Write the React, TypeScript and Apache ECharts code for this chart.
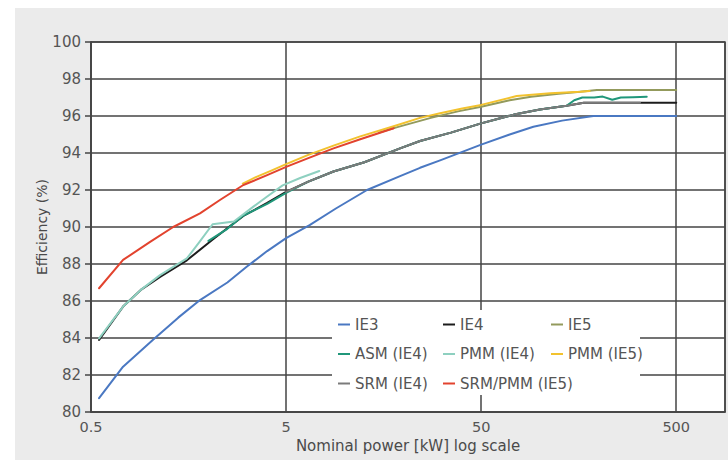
import React, { useEffect, useRef } from "react";
import * as echarts from "echarts";

// ---- data (kW, efficiency %) ----
const X_TICK_LABELS = ["0.5", "5", "50", "500"];
const X_BASE_KW = 0.5;

const IE3_KW = [0.55, 0.73, 1.04, 1.4, 1.81, 2.5, 3.14, 4, 5, 6.6, 9, 13, 19.2, 24.3, 30.8, 50, 70, 92.6, 130, 188, 300, 500];
const IE3_EFF = [80.75, 82.45, 83.9, 85.1, 86.05, 87.0, 87.85, 88.7, 89.4, 90.1, 91.0, 92.0, 92.75, 93.2, 93.6, 94.45, 95.0, 95.42, 95.75, 96.0, 96.0, 96.0];

const IE4_KW = [0.55, 0.73, 0.9, 1.13, 1.55, 2.12, 3.02, 4, 5, 6.5, 8.75, 12.6, 19.2, 24.3, 35, 50, 75, 100, 137, 168, 250, 500];
const IE4_EFF = [83.9, 85.7, 86.6, 87.3, 88.2, 89.35, 90.6, 91.3, 91.9, 92.45, 93.0, 93.5, 94.25, 94.65, 95.1, 95.6, 96.1, 96.35, 96.55, 96.72, 96.72, 96.72];

const IE5_KW = [15, 18.6, 27.6, 38, 50, 70, 90, 125, 161, 196, 300, 500];
const IE5_EFF = [95.1, 95.4, 95.9, 96.25, 96.5, 96.85, 97.04, 97.2, 97.31, 97.4, 97.4, 97.4];

const ASM_KW = [2.0, 2.5, 3.02, 4, 5, 6.5, 8.75, 12.6, 19.2, 24.3, 35, 50, 75, 100, 137, 150, 165, 190, 210, 235, 260, 300, 353];
const ASM_EFF = [89.25, 89.9, 90.62, 91.25, 91.85, 92.45, 93.0, 93.5, 94.25, 94.65, 95.1, 95.6, 96.1, 96.35, 96.55, 96.85, 97.0, 97.0, 97.05, 96.88, 97.0, 97.02, 97.04];

const PMM4_KW = [0.55, 0.73, 0.9, 1.13, 1.55, 1.8, 2.1, 2.7, 3.4, 4.0, 4.8, 5.9, 7.4];
const PMM4_EFF = [83.98, 85.7, 86.6, 87.4, 88.3, 89.2, 90.15, 90.3, 91.1, 91.65, 92.25, 92.65, 93.03];

const PMM5_KW = [3.0, 3.5, 4.2, 5, 6.5, 8.75, 12, 17.8, 24.3, 30.8, 40, 50, 76, 113, 161, 180];
const PMM5_EFF = [92.35, 92.7, 93.05, 93.4, 93.9, 94.4, 94.9, 95.45, 95.9, 96.15, 96.4, 96.6, 97.08, 97.23, 97.31, 97.35];

const SRM4_KW = [5, 6.5, 8.75, 12.6, 19.2, 24.3, 35, 50, 75, 100, 137, 168, 250, 326];
const SRM4_EFF = [91.9, 92.45, 93.0, 93.5, 94.25, 94.65, 95.1, 95.6, 96.1, 96.35, 96.55, 96.72, 96.72, 96.72];

const SRM5_KW = [0.55, 0.73, 1.0, 1.32, 1.81, 2.29, 3.02, 4, 5.04, 6.5, 8.75, 12, 17.8];
const SRM5_EFF = [86.69, 88.22, 89.18, 90.0, 90.74, 91.46, 92.27, 92.8, 93.26, 93.72, 94.25, 94.74, 95.34];

const toX = (kw: number) => Math.log10(kw / X_BASE_KW);
const pairs = (kw: number[], eff: number[]) => kw.map((k, i) => [toX(k), eff[i]]);

const FONT = "DejaVu Sans";
const GRID_COLOR = "#454545";

export default function App() {
  const ref = useRef<HTMLDivElement>(null);

  useEffect(() => {
    if (!ref.current) return;
    const chart = echarts.init(ref.current, undefined, { renderer: "svg" });

    const mk = (name: string, kw: number[], eff: number[], color: string, width = 2) => ({
      name,
      type: "line",
      data: pairs(kw, eff),
      showSymbol: false,
      symbol: "none",
      smooth: false,
      lineStyle: { color, width, join: "round", cap: "round" },
      itemStyle: { color },
      emphasis: { disabled: true },
    });

    const series = [
      mk("IE3", IE3_KW, IE3_EFF, "#4a78c2"),
      mk("IE4", IE4_KW, IE4_EFF, "#1c1c1c"),
      mk("ASM (IE4)", ASM_KW, ASM_EFF, "#20977a"),
      mk("SRM (IE4)", SRM4_KW, SRM4_EFF, "#7b7b7b"),
      mk("PMM (IE4)", PMM4_KW, PMM4_EFF, "#8ed0c0"),
      mk("IE5", IE5_KW, IE5_EFF, "#939a5c"),
      mk("PMM (IE5)", PMM5_KW, PMM5_EFF, "#f2c22e"),
      mk("SRM/PMM (IE5)", SRM5_KW, SRM5_EFF, "#e2432e"),
    ];

    const legendBase = {
      orient: "vertical",
      top: 317,
      padding: 0,
      itemGap: 14.5,
      itemWidth: 12,
      itemHeight: 2,
      icon: "rect",
      selectedMode: false,
      itemStyle: { borderWidth: 0 },
      textStyle: { fontFamily: FONT, fontSize: 15, color: "#555", lineHeight: 14 },
      z: 5,
    };

    chart.setOption({
      animation: false,
      textStyle: { fontFamily: FONT },
      grid: {
        left: 91,
        top: 42,
        right: 3,
        bottom: 48,
        show: true,
        backgroundColor: "#ffffff",
        borderColor: GRID_COLOR,
        borderWidth: 1.5,
      },
      xAxis: {
        type: "value",
        min: 0,
        max: 3.25,
        interval: 1,
        name: "Nominal power [kW] log scale",
        nameLocation: "middle",
        nameGap: 26,
        nameMoveOverlap: false,
        nameTextStyle: { fontFamily: FONT, fontSize: 15, color: "#4a4a4a" },
        axisLine: { show: true, lineStyle: { color: GRID_COLOR, width: 1.5 } },
        axisTick: { show: false },
        axisLabel: {
          fontFamily: FONT,
          fontSize: 14.5,
          color: "#555",
          margin: 7,
          showMaxLabel: false,
          formatter: (v: number) => (Number.isInteger(v) ? X_TICK_LABELS[v] ?? "" : ""),
        },
        splitLine: { show: true, lineStyle: { color: GRID_COLOR, width: 1.5 } },
      },
      yAxis: {
        type: "value",
        min: 80,
        max: 100,
        interval: 2,
        name: "Efficiency (%)",
        nameLocation: "middle",
        nameGap: 42,
        nameMoveOverlap: false,
        nameTextStyle: { fontFamily: FONT, fontSize: 14, color: "#4a4a4a" },
        axisLine: { show: true, lineStyle: { color: GRID_COLOR, width: 1.5 } },
        axisTick: { show: true, length: 6, lineStyle: { color: GRID_COLOR, width: 1.5 } },
        axisLabel: { fontFamily: FONT, fontSize: 15, color: "#555", margin: 10 },
        splitLine: { show: true, lineStyle: { color: GRID_COLOR, width: 1.5 } },
      },
      legend: [
        { ...legendBase, left: 338, data: ["IE3", "ASM (IE4)", "SRM (IE4)"] },
        { ...legendBase, left: 443, data: ["IE4", "PMM (IE4)", "SRM/PMM (IE5)"] },
        { ...legendBase, left: 551, data: ["IE5", "PMM (IE5)"] },
      ],
      graphic: [
        {
          type: "rect",
          z: 3,
          shape: { x: 332, y: 310, width: 308, height: 85 },
          style: { fill: "#ffffff" },
          silent: true,
        },
      ],
      series,
    });

    return () => chart.dispose();
  }, []);

  return (
    <div style={{ position: "fixed", left: 0, top: 0, width: 728, height: 460, background: "#ffffff" }}>
      <div style={{ position: "absolute", left: 15, top: 8, width: 713, height: 452, background: "#ebebeb" }} />
      <div ref={ref} style={{ position: "absolute", left: 0, top: 0, width: 728, height: 460 }} />
    </div>
  );
}
